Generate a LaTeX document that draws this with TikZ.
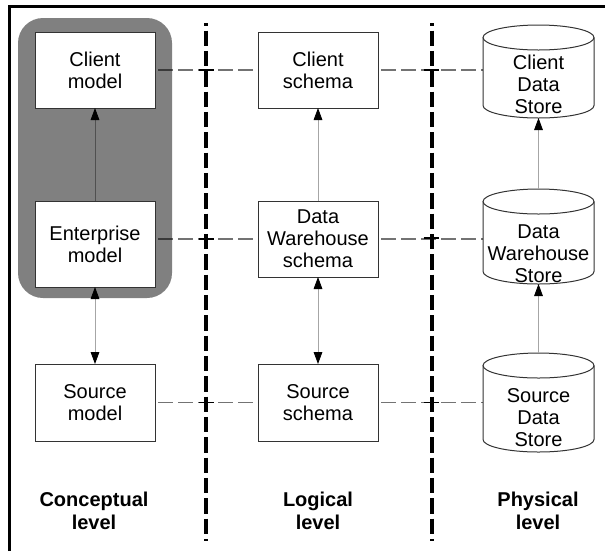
\documentclass[tikz,border=0pt]{standalone}
\usepackage{fontspec}
\setmainfont{Liberation Sans}
\usetikzlibrary{arrows.meta,backgrounds}
\definecolor{bggray}{HTML}{808080}
\definecolor{boxline}{HTML}{333333}
\definecolor{connlight}{HTML}{A6A6A6}
\definecolor{conndark}{HTML}{505050}
\newcommand\dbcyl[1]{%
  \draw[cylline] ([yshift=-9.375pt]#1.north) ellipse [x radius=41.625pt, y radius=9.375pt];
  \draw[cylline] ([yshift=-9.375pt]#1.north west) -- ([yshift=9.375pt]#1.south west)
     arc [start angle=180, end angle=360, x radius=41.625pt, y radius=9.375pt]
     -- ([yshift=-9.375pt]#1.north east);
}
\begin{document}
\begin{tikzpicture}[x=0.75pt,y=-0.75pt,
  lbl/.style={font=\fontsize{15pt}{16.5pt}\selectfont, align=center, inner sep=0pt, outer sep=0pt},
  box/.style={lbl, draw=boxline, fill=white, line width=0.75pt, minimum width=90pt},
  cylframe/.style={minimum width=83.25pt, inner sep=0pt, outer sep=0pt},
  cylline/.style={draw=boxline, line width=0.75pt},
  lvl/.style={lbl, font=\fontsize{15pt}{17pt}\selectfont\bfseries},
  >={Triangle[length=9pt,width=6.5pt,color=black,fill=black]},
  conn/.style={draw=connlight, line width=0.6pt},
  hdash/.style={draw=black, draw opacity=0.55, line width=1pt, dash pattern=on 11.25pt off 3.75pt, dash phase=12.75pt},
  vdash/.style={draw=black, line width=3pt, dash pattern=on 11.6pt off 3.65pt, dash phase=9.6pt},
  cross/.style={draw=black, line width=1pt},
  frameline/.style={draw=black, line width=2.25pt}
]
\useasboundingbox (0,0) rectangle (605,551);

% frame
\draw[frameline] (9,551) -- (9,6.5) -- (605,6.5);

% conceptual boxes
\node[box, minimum height=57pt] (cm) at (95,70) {Client\\model};
\node[box, minimum height=64.5pt] (em) at (95,244) {Enterprise\\model};
\node[box, minimum height=57.75pt] (sm) at (95,402.5) {Source\\model};

% logical boxes
\node[box, minimum height=57pt] (cs) at (318,70) {Client\\schema};
\node[box, minimum height=57pt] (dws) at (318,239) {Data\\Warehouse\\schema};
\node[box, minimum height=57.75pt] (ss) at (318,402.5) {Source\\schema};

% physical stores
\node[cylframe, minimum height=69.75pt] (cds) at (538.5,71.5) {};
\node[cylframe, minimum height=71.25pt] (dwst) at (538.5,236.5) {};
\node[cylframe, minimum height=74.25pt] (sds) at (538.5,402.5) {};
\dbcyl{cds}
\dbcyl{dwst}
\dbcyl{sds}
\node[lbl] (cdst) at (538.5,84.5) {Client\\Data\\Store};
\node[lbl] (dwstt) at (538.5,254) {Data\\Warehouse\\Store};
\node[lbl] (sdst) at (538.5,418) {Source\\Data\\Store};

% grey grouping
\begin{scope}[on background layer]
  \fill[bggray, rounded corners=18.75pt] (18,18) rectangle (172,298);
\end{scope}

% vertical separators
\coordinate (v1t) at (206,23);
\coordinate (v1b) at (206,541);
\coordinate (v2t) at (432,23);
\coordinate (v2b) at (432,541);
\draw[vdash] (v1t) -- (v1b);
\draw[vdash] (v2t) -- (v2b);

% horizontal correspondences
\draw[hdash] (cm.east) -- (cs.west);
\draw[hdash] (cs.east) -- (cs.east -| cds.west);
\draw[hdash] (dws.west -| em.east) -- (dws.west);
\draw[hdash] (dws.east) -- (dws.east -| dwst.west);
\draw[hdash] (sm.east) -- (ss.west);
\draw[hdash] (ss.east) -- (ss.east -| sds.west);

% crossing marks
\foreach \yy in {70,239,402.5}{
  \draw[cross] (198.5,\yy) -- (213.5,\yy);
}
\foreach \yy in {70,238,402.5}{
  \draw[cross] (423.5,\yy) -- (438.5,\yy);
}

% connectors
\draw[conn, draw=conndark, ->] (em.north) -- (cm.south);
\draw[conn, <->] (em.south) -- (sm.north);
\draw[conn, ->] (dws.north) -- (cs.south);
\draw[conn, <->] (dws.south) -- (ss.north);
\draw[conn, ->] (dwst.north) -- (cds.south);
\draw[conn, ->] (sds.north) -- (dwst.south);

% level labels
\node[lvl] (lc) at (94,511) {Conceptual\\level};
\node[lvl] (ll) at (318,511) {Logical\\level};
\node[lvl] (lp) at (538,511) {Physical\\level};
\end{tikzpicture}
\end{document}
